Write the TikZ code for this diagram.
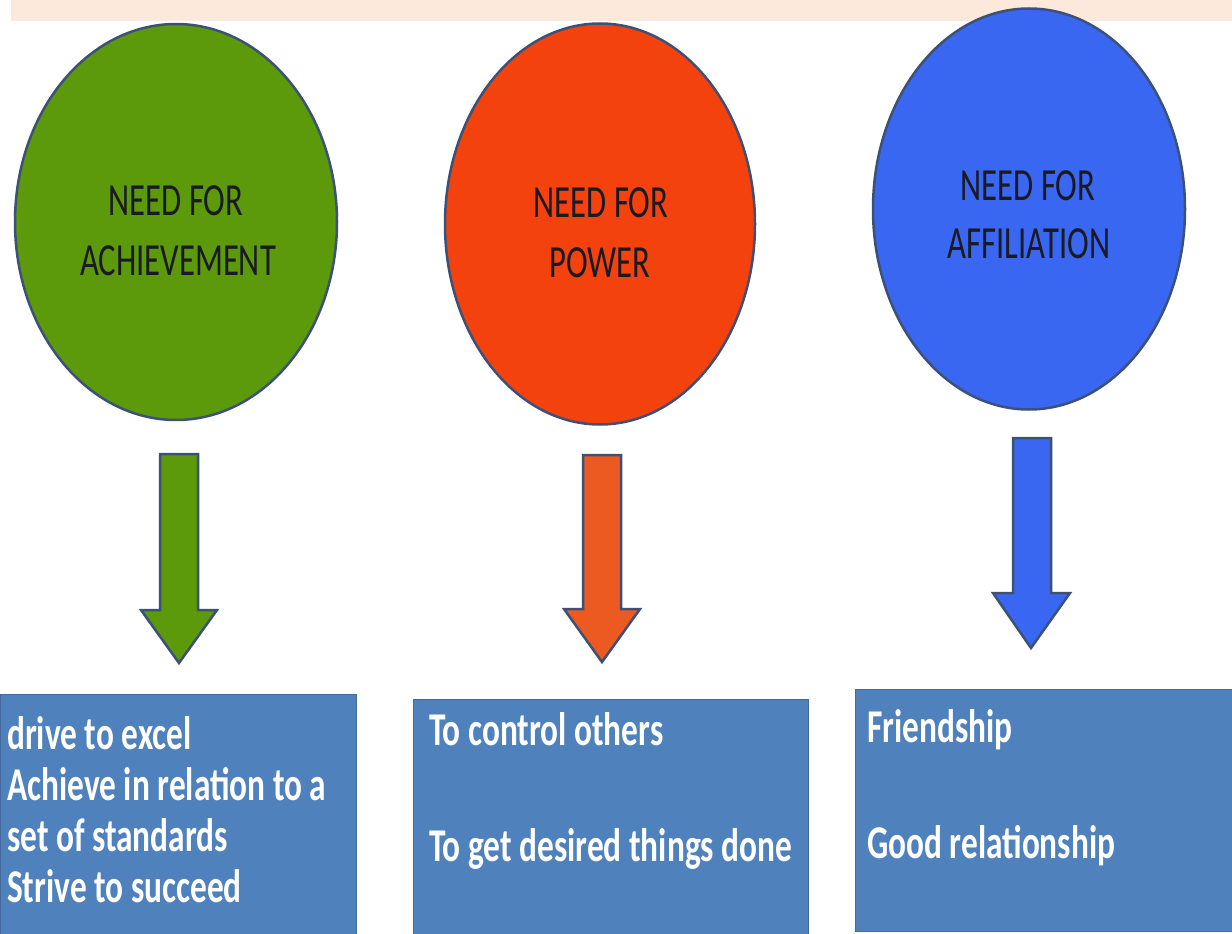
\documentclass[tikz,border=0pt]{standalone}
\usepackage{fontspec}
\usetikzlibrary{shapes.geometric}
\newfontfamily\calfont[FakeStretch=0.71]{Carlito}
\definecolor{band}{HTML}{FDE9DB}
\definecolor{grn}{HTML}{5C9A0B}
\definecolor{red1}{HTML}{F4420E}
\definecolor{red2}{HTML}{EC5A22}
\definecolor{blu}{HTML}{3A67F1}
\definecolor{edge}{HTML}{3D5176}
\definecolor{boxc}{HTML}{4F81BD}
\definecolor{boxedge}{HTML}{44699A}
\definecolor{ink}{HTML}{1A1A22}
\tikzset{
  circ/.style={ellipse, draw=edge, line width=2.5pt, inner sep=0pt},
  ctext/.style={anchor=base, inner sep=0pt, text=ink, font=\calfont\fontsize{46}{46}\selectfont},
  blockarrow/.style={draw=edge, line width=2.5pt, line join=miter},
  infobox/.style={rectangle, fill=boxc, draw=boxedge, line width=1pt, anchor=north west, inner sep=0pt},
  btext/.style={anchor=base west, inner sep=0pt, text=white, font=\calfont\bfseries\fontsize{47}{47}\selectfont}
}
\begin{document}
\begin{tikzpicture}[x=1pt,y=-1pt]
\useasboundingbox (0,0) rectangle (1232,934);
\fill[white] (0,0) rectangle (1232,934);
\fill[band] (11,0) rectangle (1232,21);

% circles
\node[circ, fill=grn, minimum width=322pt, minimum height=396pt] (c1) at (176,222) {};
\node[circ, fill=red1, minimum width=310pt, minimum height=401pt] (c2) at (600,224) {};
\node[circ, fill=blu, minimum width=312pt, minimum height=401pt] (c3) at (1029,209) {};

\node[ctext] (c1a) at (176,215) {NEED FOR};
\node[ctext] (c1b) at (178,275) {ACHIEVEMENT};
\node[ctext] (c2a) at (601,217) {NEED FOR};
\node[ctext] (c2b) at (600,277) {POWER};
\node[ctext] (c3a) at (1028,200) {NEED FOR};
\node[ctext] (c3b) at (1029,258) {AFFILIATION};

% block arrows
\draw[blockarrow, fill=grn] (160,454) -- (198,454) -- (198,610) -- (217,610) -- (179,663) -- (141,610) -- (160,610) -- cycle;
\draw[blockarrow, fill=red2] (583,455) -- (621,455) -- (621,609) -- (640,609) -- (602,662) -- (564,609) -- (583,609) -- cycle;
\draw[blockarrow, fill=blu] (1013,438) -- (1051,438) -- (1051,593) -- (1070,593) -- (1031,648) -- (993,593) -- (1013,593) -- cycle;

% boxes
\node[infobox, minimum width=356pt, minimum height=242pt] (b1) at (0,694) {};
\node[infobox, minimum width=395pt, minimum height=237pt] (b2) at (413,699) {};
\node[infobox, minimum width=380pt, minimum height=242pt] (b3) at (855,689) {};

\node[btext] (l1) at (7,749) {drive to excel};
\node[btext] (l2) at (7,800) {Achieve in relation to a};
\node[btext] (l3) at (7,851) {set of standards};
\node[btext] (l4) at (7,902) {Strive to succeed};

\node[btext] (m1) at (429,745) {To control others};
\node[btext] (m2) at (429,861) {To get desired things done};

\node[btext] (r1) at (867,742) {Friendship};
\node[btext] (r2) at (867,858) {Good relationship};
\end{tikzpicture}
\end{document}
